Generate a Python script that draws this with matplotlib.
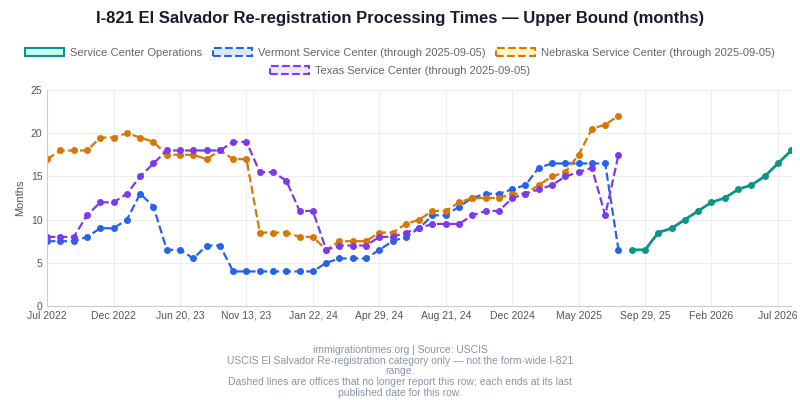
import matplotlib
matplotlib.use('Agg')
import matplotlib.pyplot as plt
from matplotlib.patches import Patch

vermont = [7.5, 7.5, 7.5, 8, 9, 9, 10, 13, 11.5, 6.5, 6.5, 5.5, 7, 7, 4, 4, 4, 4, 4, 4, 4, 5, 5.5, 5.5,
           5.5, 6.5, 7.5, 8, 9, 10.5, 10.5, 11.5, 12.5, 13, 13, 13.5, 14, 16, 16.5, 16.5, 16.5, 16.5, 16.5, 6.5]
nebraska = [17, 18, 18, 18, 19.5, 19.5, 20, 19.5, 19, 17.5, 17.5, 17.5, 17, 18, 17, 17, 8.5, 8.5, 8.5, 8, 8, 6.5,
            7.5, 7.5, 7.5, 8.5, 8.5, 9.5, 10, 11, 11, 12, 12.5, 12.5, 12.5, 13, 13, 14, 15, 15.5, 17.5, 20.5, 21, 22]
texas = [8, 8, 8, 10.5, 12, 12, 13, 15, 16.5, 18, 18, 18, 18, 18, 19, 19, 15.5, 15.5, 14.5, 11, 11, 6.5, 7, 7,
         7, 8, 8, 8.5, 9, 9.5, 9.5, 9.5, 10.5, 11, 11, 12.5, 13, 13.5, 14, 15, 15.5, 16, 10.5, 17.5]
operations = [6.5, 6.5, 8.5, 9, 10, 11, 12, 12.5, 13.5, 14, 15, 16.5, 18]
tick_labels = ['Jul 2022', 'Dec 2022', 'Jun 20, 23', 'Nov 13, 23', 'Jan 22, 24', 'Apr 29, 24',
               'Aug 21, 24', 'Dec 2024', 'May 2025', 'Sep 29, 25', 'Feb 2026', 'Jul 2026']

plt.rcParams['font.family'] = ['Liberation Sans', 'DejaVu Sans']
fig = plt.figure(figsize=(8, 4), dpi=100)
ax = fig.add_axes([0.059, 0.235, 0.93, 0.54])

teal, blue, orange, purple = '#0d9488', '#2563eb', '#d97706', '#7c3aed'
ax.plot(range(len(vermont)), vermont, '--o', color=blue, ms=4, lw=1.6)
ax.plot(range(len(nebraska)), nebraska, '--o', color=orange, ms=4, lw=1.6)
ax.plot(range(len(texas)), texas, '--o', color=purple, ms=4, lw=1.6)
ax.plot(range(44, 44 + len(operations)), operations, '-o', color=teal, ms=4, lw=2)

ax.set_xlim(0, 56)
ax.set_ylim(0, 25)
ax.set_xticks(range(0, 56, 5))
ax.set_xticklabels(tick_labels)
ax.set_yticks([0, 5, 10, 15, 20, 25])
ax.tick_params(colors='#555', labelsize=7.5, length=0)
ax.grid(color='#eee', lw=0.8)
for s in ['top', 'right']:
    ax.spines[s].set_visible(False)
for s in ['left', 'bottom']:
    ax.spines[s].set_color('#ccc')
ax.set_ylabel('Months', fontsize=8, color='#555')

handles = [Patch(facecolor='#ccfbf1', edgecolor=teal, lw=1.5, label='Service Center Operations'),
           Patch(facecolor='#dbeafe', edgecolor=blue, lw=1.5, ls='--', label='Vermont Service Center (through 2025-09-05)'),
           Patch(facecolor='#fef3c7', edgecolor=orange, lw=1.5, ls='--', label='Nebraska Service Center (through 2025-09-05)'),
           Patch(facecolor='#ede9fe', edgecolor=purple, lw=1.5, ls='--', label='Texas Service Center (through 2025-09-05)')]
kw = dict(loc='upper center', frameon=False, fontsize=8, labelcolor='#666',
          handlelength=3.5, columnspacing=1.0, handletextpad=0.5)
fig.legend(handles=handles[:3], bbox_to_anchor=(0.5, 0.905), ncol=3, **kw)
fig.legend(handles=handles[3:], bbox_to_anchor=(0.5, 0.86), ncol=1, **kw)
fig.text(0.5, 0.955, 'I-821 El Salvador Re-registration Processing Times — Upper Bound (months)',
         ha='center', va='center', fontsize=12, fontweight='bold', color='#1a1a2e')
fig.text(0.5, 0.005, 'immigrationtimes.org | Source: USCIS\nUSCIS El Salvador Re-registration category only — not the form-wide I-821\nrange.\n'
         'Dashed lines are offices that no longer report this row; each ends at its last\npublished date for this row.',
         ha='center', va='bottom', fontsize=7.5, color='#8a94a6', linespacing=1.1)
fig.savefig('out.png')
